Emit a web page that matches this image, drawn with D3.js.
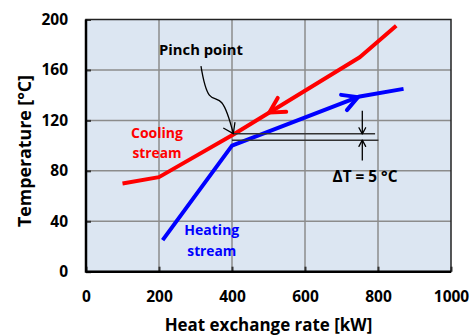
<!DOCTYPE html>
<html>
<head>
<meta charset="utf-8">
<script src="https://cdn.jsdelivr.net/npm/d3@7"></script>
<style>
  html, body { margin: 0; padding: 0; background: #ffffff; }
  svg { display: block; }
  text { font-family: "Open Sans", Lato, sans-serif; font-weight: bold; }
</style>
</head>
<body>
<svg id="chart" width="473" height="336"></svg>
<script>
// ---- data ----
const xTicks = [0, 200, 400, 600, 800, 1000];
const yTicks = [0, 40, 80, 120, 160, 200];
const coolingX = [100, 200, 405, 750, 850];
const coolingT = [70, 75, 109, 170, 195];
const heatingX = [210, 400, 750, 870];
const heatingT = [25, 100, 139, 145];
const pinchUpperT = 109.3;
const pinchLowerT = 104.3;
const pinchUpperX = [403, 792];
const pinchLowerX = [400, 801];
const deltaArrowX = 757;
const deltaDownT = [127.7, 109.3];
const deltaUpT = [88.2, 104.3];
const pinchCurveX = [315, 338, 372, 403.6];
const pinchCurveT = [163, 140, 134, 109.5];
const coolingArrowX = 502;
const heatingArrowX = 745;
const xTitle = "Heat exchange rate [kW]";
const yTitle = "Temperature [°C]";
const coolingLabel = ["Cooling", "stream"];
const heatingLabel = ["Heating", "stream"];
const pinchLabel = "Pinch point";
const deltaLabel = "ΔT = 5 °C";

// ---- layout ----
const svg = d3.select("#chart");
const pL = 86, pR = 451, pT = 19.5, pB = 271.7;
const x = d3.scaleLinear().domain([0, 1000]).range([pL, pR]);
const y = d3.scaleLinear().domain([0, 200]).range([pB, pT]);

// shrink/grow a text's font size so it spans a target width
function fit(sel, w) {
  const n = sel.node();
  const fs = parseFloat(sel.attr("font-size"));
  const len = n.getComputedTextLength();
  if (len > 0) sel.attr("font-size", (fs * w / len).toFixed(2));
  return sel;
}

svg.append("rect").attr("x", pL).attr("y", pT)
  .attr("width", pR - pL).attr("height", pB - pT)
  .attr("fill", "#dce6f2");

// grid
const grid = svg.append("g").attr("stroke", "#8c8c8c").attr("stroke-width", 1.5);
grid.selectAll("line.v").data(xTicks.slice(1, -1)).join("line").attr("class", "v")
  .attr("x1", d => x(d)).attr("x2", d => x(d)).attr("y1", pT).attr("y2", pB);
grid.selectAll("line.h").data(yTicks.slice(1, -1)).join("line").attr("class", "h")
  .attr("y1", d => y(d)).attr("y2", d => y(d)).attr("x1", pL).attr("x2", pR);

// axes
const yAxis = svg.append("g").attr("transform", `translate(${pL},0)`)
  .call(d3.axisLeft(y).tickValues(yTicks).tickFormat(d3.format("d")).tickSize(-5).tickPadding(18));
const xAxis = svg.append("g").attr("transform", `translate(0,${pB})`)
  .call(d3.axisBottom(x).tickValues(xTicks).tickFormat(d3.format("d")).tickSize(-5).tickPadding(19));
[xAxis, yAxis].forEach(a => {
  a.select(".domain").remove();
  a.selectAll(".tick line").attr("stroke", "#333").attr("stroke-width", 2);
  a.selectAll("text").attr("font-size", 15.5).attr("fill", "#000")
    .style("font-family", "'Open Sans', sans-serif").style("font-weight", "bold");
});

// frame
svg.append("rect").attr("x", pL).attr("y", pT)
  .attr("width", pR - pL).attr("height", pB - pT)
  .attr("fill", "none").attr("stroke", "#222").attr("stroke-width", 1.5);
svg.append("line").attr("x1", pL).attr("x2", pL).attr("y1", pT).attr("y2", pB + 1)
  .attr("stroke", "#000").attr("stroke-width", 2.5);
svg.append("line").attr("x1", pL).attr("x2", pR).attr("y1", pB).attr("y2", pB)
  .attr("stroke", "#000").attr("stroke-width", 2.5);

// streams
const line = d3.line().x(d => x(d[0])).y(d => y(d[1]));
const cooling = coolingX.map((v, i) => [v, coolingT[i]]);
const heating = heatingX.map((v, i) => [v, heatingT[i]]);
svg.append("path").attr("d", line(cooling)).attr("fill", "none")
  .attr("stroke", "#ff0000").attr("stroke-width", 4).attr("stroke-linejoin", "round");
svg.append("path").attr("d", line(heating)).attr("fill", "none")
  .attr("stroke", "#0000ff").attr("stroke-width", 4).attr("stroke-linejoin", "round");

// chevron helper: tip at (px,py), opening back along angle `back` (radians)
function chevron(g, px, py, back, len, half, color, width) {
  const a1 = back - half, a2 = back + half;
  const p = [[px + len * Math.cos(a1), py + len * Math.sin(a1)], [px, py],
             [px + len * Math.cos(a2), py + len * Math.sin(a2)]];
  g.append("path").attr("d", d3.line()(p)).attr("fill", "none")
    .attr("stroke", color).attr("stroke-width", width)
    .attr("stroke-linecap", "round").attr("stroke-linejoin", "round");
}
function onLine(xs, ts, v) { return d3.scaleLinear().domain(xs).range(ts)(v); }

// cooling arrow (points down-left)
{
  const tx = x(coolingArrowX), ty = y(onLine(coolingX, coolingT, coolingArrowX));
  const back = Math.atan2(y(coolingT[3]) - y(coolingT[2]), x(coolingX[3]) - x(coolingX[2]));
  chevron(svg, tx, ty, back, 17, 0.5, "#ff0000", 4);
}
// heating arrow (points up-right)
{
  const tx = x(heatingArrowX), ty = y(onLine(heatingX, heatingT, heatingArrowX));
  const fwd = Math.atan2(y(heatingT[2]) - y(heatingT[1]), x(heatingX[2]) - x(heatingX[1]));
  chevron(svg, tx, ty, fwd + Math.PI, 17, 0.5, "#0000ff", 4);
}

// pinch lines
const ann = svg.append("g");
ann.append("line").attr("x1", x(pinchUpperX[0])).attr("x2", x(pinchUpperX[1]))
  .attr("y1", y(pinchUpperT)).attr("y2", y(pinchUpperT))
  .attr("stroke", "#333").attr("stroke-width", 1.5);
ann.append("line").attr("x1", x(pinchLowerX[0])).attr("x2", x(pinchLowerX[1]))
  .attr("y1", y(pinchLowerT)).attr("y2", y(pinchLowerT))
  .attr("stroke", "#333").attr("stroke-width", 1.5);
// delta T arrows
ann.append("line").attr("x1", x(deltaArrowX)).attr("x2", x(deltaArrowX))
  .attr("y1", y(deltaDownT[0])).attr("y2", y(deltaDownT[1]))
  .attr("stroke", "#000").attr("stroke-width", 1.3);
chevron(ann, x(deltaArrowX), y(deltaDownT[1]), -Math.PI / 2, 7, 0.5, "#000", 1.3);
ann.append("line").attr("x1", x(deltaArrowX)).attr("x2", x(deltaArrowX))
  .attr("y1", y(deltaUpT[0])).attr("y2", y(deltaUpT[1]))
  .attr("stroke", "#000").attr("stroke-width", 1.3);
chevron(ann, x(deltaArrowX), y(deltaUpT[1]), Math.PI / 2, 7, 0.5, "#000", 1.3);

// pinch curve arrow
{
  const pts = pinchCurveX.map((v, i) => [x(v), y(pinchCurveT[i])]);
  ann.append("path").attr("d", d3.line().curve(d3.curveCatmullRom)(pts))
    .attr("fill", "none").attr("stroke", "#000").attr("stroke-width", 1.3);
  const n = pts.length;
  const back = Math.atan2(pts[n - 2][1] - pts[n - 1][1], pts[n - 2][0] - pts[n - 1][0]);
  chevron(ann, pts[n - 1][0], pts[n - 1][1], back - 0.1, 11, 0.6, "#000", 1.3);
}

// labels
fit(svg.append("text").attr("x", 201).attr("y", 54.5).attr("text-anchor", "middle")
  .attr("font-size", 15).attr("fill", "#000").text(pinchLabel), 84);
fit(svg.append("text").attr("x", 365).attr("y", 182).attr("text-anchor", "middle")
  .attr("font-size", 15).attr("fill", "#000").text(deltaLabel), 65);
coolingLabel.forEach((t, i) => fit(svg.append("text").attr("x", 157).attr("y", 138 + i * 20)
  .attr("text-anchor", "middle").attr("font-size", 15.5).attr("fill", "#ff0000").text(t), i ? 49 : 52));
heatingLabel.forEach((t, i) => fit(svg.append("text").attr("x", 211.8).attr("y", 235 + i * 20.5)
  .attr("text-anchor", "middle").attr("font-size", 15.5).attr("fill", "#0000ff").text(t), i ? 49 : 55));

fit(svg.append("text").attr("x", 268.5).attr("y", 331).attr("text-anchor", "middle")
  .attr("font-size", 16).attr("fill", "#000").text(xTitle), 208);
fit(svg.append("text").attr("transform", "translate(31,151) rotate(-90)").attr("text-anchor", "middle")
  .attr("font-size", 16).attr("fill", "#000").text(yTitle), 152);
</script>
</body>
</html>
